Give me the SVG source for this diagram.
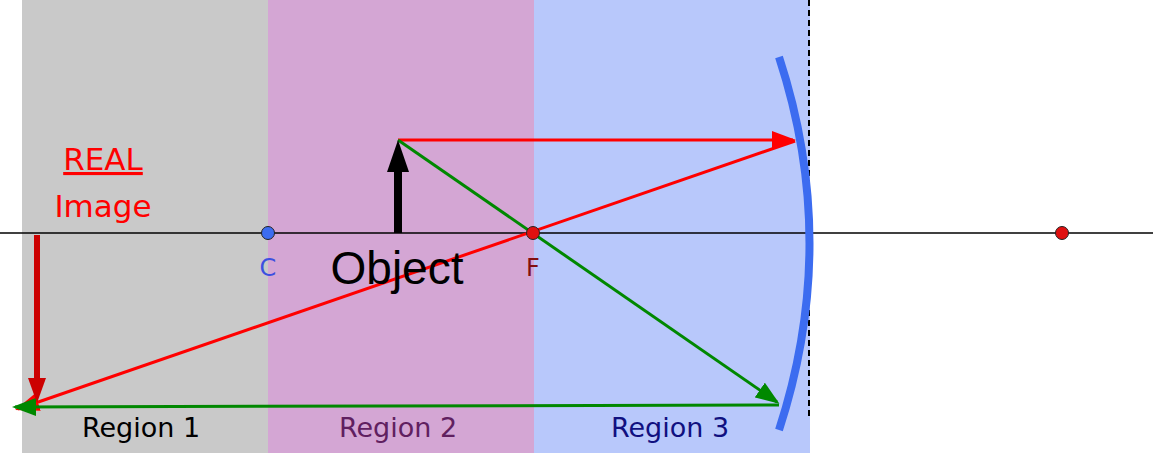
<svg xmlns="http://www.w3.org/2000/svg" width="1153" height="470" viewBox="0 0 1153 470">
<style>
.lbl{font-family:"DejaVu Sans",sans-serif;font-size:27px;text-anchor:middle}
.big{font-size:31px}
.sm{font-size:24px}
.pt{stroke:#222;stroke-width:1}
</style>
<defs>
<marker id="r" markerWidth="8" markerHeight="6" refX="7" refY="3" orient="auto" markerUnits="strokeWidth"><path d="M0,0L8,3L0,6z" fill="#f00"/></marker>
<marker id="g" markerWidth="8" markerHeight="6" refX="7" refY="3" orient="auto" markerUnits="strokeWidth"><path d="M0,0L8,3L0,6z" fill="#080"/></marker>
</defs>
<g id="regions">
<rect x="22" y="0" width="246" height="453" fill="#c9c9c9"/>
<rect x="268" y="0" width="266" height="453" fill="#d4a6d4"/>
<rect x="534" y="0" width="276" height="453" fill="#b8c8fb"/>
</g>
<g id="axis"><line x1="0" y1="233" x2="1153" y2="233" stroke="#000" stroke-width="1.5"/>
<line x1="809" y1="0" x2="809" y2="420" stroke="#000" stroke-width="2" stroke-dasharray="6,4"/></g>
<g id="mirror"><path d="M779,57 Q840,243 779,430" fill="none" stroke="#3c6cf0" stroke-width="8"/></g>
<g id="connectors" fill="none" stroke-width="3">
<line x1="398" y1="140" x2="793" y2="140" stroke="#f00" marker-end="url(#r)"/>
<line x1="795" y1="141" x2="18" y2="409" stroke="#f00" marker-end="url(#r)"/>
<line x1="398" y1="140" x2="777" y2="402" stroke="#080" marker-end="url(#g)"/>
<line x1="779" y1="405" x2="15" y2="407" stroke="#080" marker-end="url(#g)"/>
</g>
<g id="object"><line x1="398" y1="233" x2="398" y2="170" stroke="#000" stroke-width="8"/><path d="M387,172L398,140L409,172z" fill="#000"/></g>
<g id="image"><line x1="37" y1="235" x2="37" y2="380" stroke="#c00" stroke-width="6"/><path d="M28,378L37,403L46,378z" fill="#c00"/></g>
<g id="C"><circle cx="268" cy="233" r="6.5" fill="#3c6cf0" class="pt"/><text x="268" y="276" class="lbl sm" fill="#3c50e0">C</text></g>
<g id="F"><circle cx="533" cy="233" r="6.5" fill="#e01010" class="pt"/><text x="533" y="276" class="lbl sm" fill="#801010">F</text></g>
<g id="P2"><circle cx="1062" cy="233" r="6.5" fill="#e01010" class="pt"/></g>
<text x="397" y="284" font-family="Liberation Sans,sans-serif" font-size="46" text-anchor="middle">Object</text>
<text x="103" y="170" class="lbl big" fill="#f00" text-decoration="underline">REAL</text>
<text x="103" y="217" class="lbl big" fill="#f00">Image</text>
<text x="141" y="437" class="lbl" fill="#000">Region 1</text>
<text x="398" y="437" class="lbl" fill="#602060">Region 2</text>
<text x="670" y="437" class="lbl" fill="#101080">Region 3</text>
</svg>
